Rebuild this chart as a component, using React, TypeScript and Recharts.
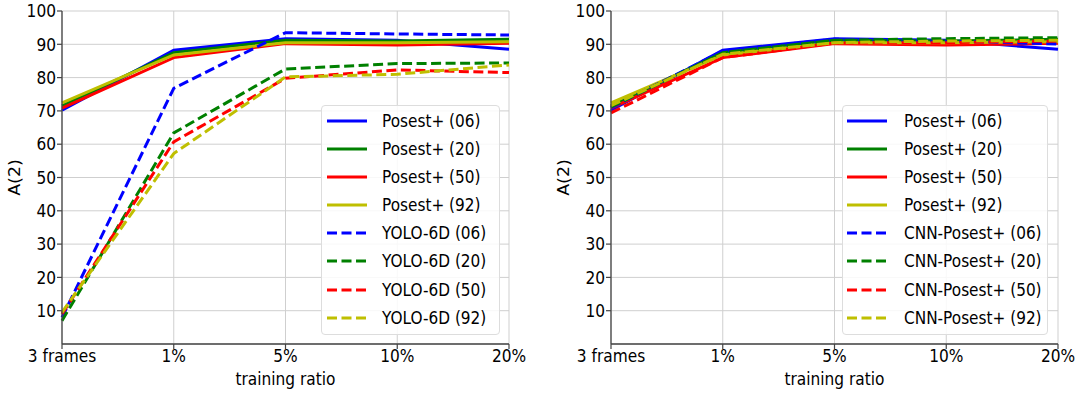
import React from 'react';
import { LineChart, Line, XAxis, YAxis, CartesianGrid, Legend } from 'recharts';

const categories = ['3 frames', '1%', '5%', '10%', '20%'];
const yTicks = [10, 20, 30, 40, 50, 60, 70, 80, 90, 100];

const posest06 = [70.2, 88.2, 91.7, 91.2, 88.5];
const posest20 = [71.5, 87.5, 91.2, 91.0, 91.5];
const posest50 = [70.8, 86.0, 90.2, 89.8, 90.3];
const posest92 = [72.4, 86.8, 90.5, 90.5, 90.8];

const yolo06 = [8.0, 76.8, 93.5, 93.1, 92.8];
const yolo20 = [7.0, 63.4, 82.6, 84.2, 84.4];
const yolo50 = [9.0, 60.7, 79.8, 82.3, 81.5];
const yolo92 = [9.5, 57.2, 80.2, 81.0, 83.8];

const cnn06 = [71.0, 88.0, 91.5, 91.0, 90.1];
const cnn20 = [71.2, 87.5, 91.2, 91.7, 92.0];
const cnn50 = [69.4, 86.0, 90.4, 90.5, 91.0];
const cnn92 = [71.6, 87.0, 90.5, 91.0, 91.2];

const BLUE = '#0000ff';
const GREEN = '#008000';
const RED = '#ff0000';
const YELLOW = '#bfbf00';
const FONT = "'DejaVu Sans', sans-serif";
const FS = 17.5;
const SX = 0.88;
const LEG_SX = 0.9;
const DASH = '10 4.5';

type Series = { key: string; name: string; color: string; dashed: boolean; values: number[] };

const leftSeries: Series[] = [
  { key: 'p06', name: 'Posest+ (06)', color: BLUE, dashed: false, values: posest06 },
  { key: 'p20', name: 'Posest+ (20)', color: GREEN, dashed: false, values: posest20 },
  { key: 'p50', name: 'Posest+ (50)', color: RED, dashed: false, values: posest50 },
  { key: 'p92', name: 'Posest+ (92)', color: YELLOW, dashed: false, values: posest92 },
  { key: 'y06', name: 'YOLO-6D (06)', color: BLUE, dashed: true, values: yolo06 },
  { key: 'y20', name: 'YOLO-6D (20)', color: GREEN, dashed: true, values: yolo20 },
  { key: 'y50', name: 'YOLO-6D (50)', color: RED, dashed: true, values: yolo50 },
  { key: 'y92', name: 'YOLO-6D (92)', color: YELLOW, dashed: true, values: yolo92 },
];

const rightSeries: Series[] = [
  { key: 'p06', name: 'Posest+ (06)', color: BLUE, dashed: false, values: posest06 },
  { key: 'p20', name: 'Posest+ (20)', color: GREEN, dashed: false, values: posest20 },
  { key: 'p50', name: 'Posest+ (50)', color: RED, dashed: false, values: posest50 },
  { key: 'p92', name: 'Posest+ (92)', color: YELLOW, dashed: false, values: posest92 },
  { key: 'c06', name: 'CNN-Posest+ (06)', color: BLUE, dashed: true, values: cnn06 },
  { key: 'c20', name: 'CNN-Posest+ (20)', color: GREEN, dashed: true, values: cnn20 },
  { key: 'c50', name: 'CNN-Posest+ (50)', color: RED, dashed: true, values: cnn50 },
  { key: 'c92', name: 'CNN-Posest+ (92)', color: YELLOW, dashed: true, values: cnn92 },
];

function buildData(series: Series[]) {
  return categories.map((c, i) => {
    const row: Record<string, any> = { cat: c };
    series.forEach((s) => (row[s.key] = s.values[i]));
    return row;
  });
}

const SPINE = '#444444';
const GRID = '#cfcfcf';

function XTick(props: any) {
  const { x, y, payload } = props;
  return (
    <text x={x} y={y} dy="0.71em" textAnchor="middle" fontSize={FS} fontFamily={FONT} fill="#000" transform={`translate(${x} 0) scale(${SX} 1) translate(${-x} 0)`}>
      {payload.value}
    </text>
  );
}

function YTick(props: any) {
  const { x, y, payload } = props;
  return (
    <text x={x} y={y} dy="0.36em" textAnchor="end" fontSize={FS} fontFamily={FONT} fill="#000" transform={`translate(${x} 0) scale(${SX} 1) translate(${-x} 0)`}>
      {payload.value}
    </text>
  );
}

function LegendBox({ series, left, width, lineLeft, textLeft }: { series: Series[]; left: number; width: number; lineLeft: number; textLeft: number }) {
  return (
    <div
      style={{
        position: 'absolute',
        left,
        top: 105,
        width,
        height: 230,
        boxSizing: 'border-box',
        border: '1px solid #dddddd',
        borderRadius: 4,
        background: 'rgba(255,255,255,0.85)',
        fontFamily: FONT,
        fontSize: 17,
        color: '#000',
        paddingTop: 1,
      }}
    >
      {series.map((s) => (
        <div key={s.key} style={{ position: 'relative', height: 28.1 }}>
          <svg width={40} height={10} style={{ position: 'absolute', left: lineLeft, top: 9 }}>
            <line x1={0} y1={5} x2={40} y2={5} stroke={s.color} strokeWidth={3} strokeDasharray={s.dashed ? DASH : undefined} />
          </svg>
          <span
            style={{
              position: 'absolute',
              left: textLeft,
              top: 4,
              whiteSpace: 'nowrap',
              lineHeight: '20px',
              transform: `scaleX(${LEG_SX})`,
              transformOrigin: 'left center',
            }}
          >
            {s.name}
          </span>
        </div>
      ))}
    </div>
  );
}

function Panel({ series, chartLeft, width, yAxisWidth, rightMargin, legendLeft, legendWidth, lineLeft, textLeft }: any) {
  const data = buildData(series);
  return (
    <div style={{ position: 'absolute', left: chartLeft, top: 0, width, height: 395 }}>
      <LineChart width={width} height={395} data={data} margin={{ top: 11, right: rightMargin, left: 0, bottom: 0 }}>
        <CartesianGrid stroke={GRID} strokeWidth={1} horizontal vertical />
        <XAxis
          dataKey="cat"
          xAxisId={0}
          height={51}
          interval={0}
          tickLine={{ stroke: SPINE, strokeWidth: 1.2 }}
          tickSize={5}
          tickMargin={1}
          axisLine={{ stroke: SPINE, strokeWidth: 1.3 }}
          tick={<XTick />}
          label={{
            value: 'training ratio',
            content: (p: any) => {
              const vb = p.viewBox;
              const cx = vb.x + vb.width / 2;
              return (
                <text x={cx} y={vb.y + 35} textAnchor="middle" dominantBaseline="central" fontSize={FS} fontFamily={FONT} fill="#000" transform={`translate(${cx} 0) scale(${SX} 1) translate(${-cx} 0)`}>
                  training ratio
                </text>
              );
            },
          }}
        />
        <XAxis dataKey="cat" xAxisId="top" orientation="top" height={0} tick={false} tickLine={false} axisLine={{ stroke: SPINE, strokeWidth: 1.3 }} />
        <YAxis
          yAxisId={0}
          width={yAxisWidth}
          domain={[0, 100]}
          ticks={yTicks}
          interval={0}
          tickLine={{ stroke: SPINE, strokeWidth: 1.2 }}
          tickSize={5}
          tickMargin={1}
          axisLine={{ stroke: SPINE, strokeWidth: 1.3 }}
          tick={<YTick />}
          label={{
            value: 'A(2)',
            content: (p: any) => {
              const vb = p.viewBox;
              const cx = vb.x + vb.width - 47.5;
              const cy = vb.y + vb.height / 2;
              return (
                <text x={cx} y={cy} textAnchor="middle" dominantBaseline="central" fontSize={FS} fontFamily={FONT} fill="#000" transform={`translate(${cx} ${cy}) scale(${SX} 1) rotate(-90) translate(${-cx} ${-cy})`}>
                  A(2)
                </text>
              );
            },
          }}
        />
        <YAxis yAxisId="right" orientation="right" width={0} domain={[0, 100]} tick={false} tickLine={false} axisLine={{ stroke: SPINE, strokeWidth: 1.3 }} />
        {series.map((s: Series) => (
          <Line
            key={s.key}
            xAxisId={0}
            yAxisId={0}
            type="linear"
            dataKey={s.key}
            name={s.name}
            stroke={s.color}
            strokeWidth={3}
            strokeDasharray={s.dashed ? DASH : undefined}
            dot={false}
            activeDot={false}
            isAnimationActive={false}
          />
        ))}
        <Legend
          layout="vertical"
          align="center"
          verticalAlign="middle"
          wrapperStyle={{ left: 0, top: 0, width: 0, height: 0 }}
          content={() => <LegendBox series={series} left={legendLeft} width={legendWidth} lineLeft={lineLeft} textLeft={textLeft} />}
        />
      </LineChart>
    </div>
  );
}

export default function App() {
  return (
    <div style={{ position: 'absolute', left: 0, top: 0, width: 1084, height: 395, background: '#fff' }}>
      <Panel series={leftSeries} chartLeft={0} width={540} yAxisWidth={62} rightMargin={31} legendLeft={321} legendWidth={179} lineLeft={5} textLeft={60} />
      <Panel series={rightSeries} chartLeft={540} width={544} yAxisWidth={71} rightMargin={26} legendLeft={302} legendWidth={206} lineLeft={4} textLeft={61} />
    </div>
  );
}
